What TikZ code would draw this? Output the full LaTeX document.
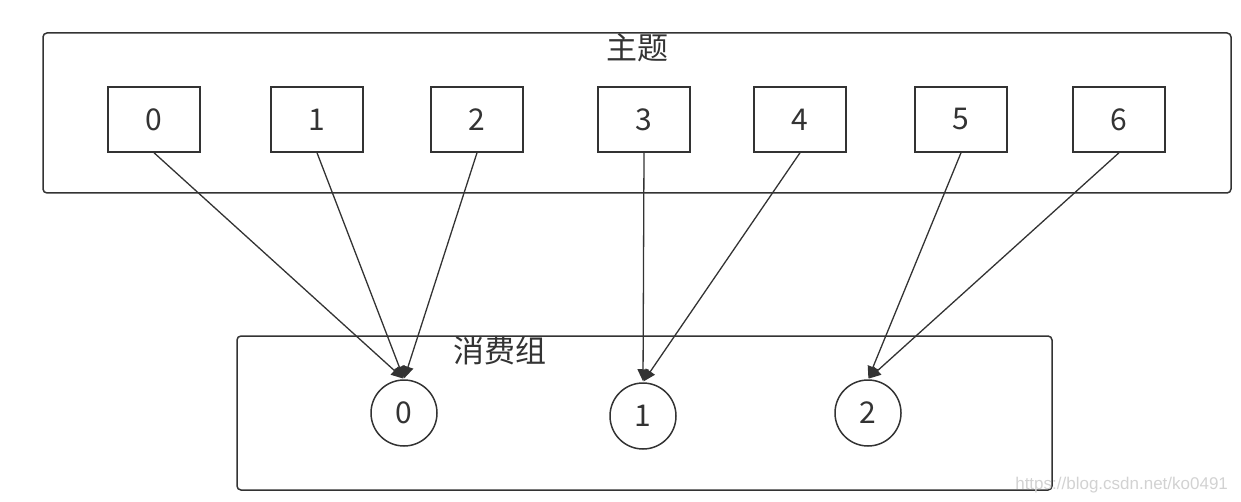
\documentclass[tikz,border=0pt]{standalone}
\usepackage{fontspec}
\setmainfont{Noto Sans CJK SC}
\newfontfamily\markfont{Liberation Sans}
\usetikzlibrary{arrows.meta}
\definecolor{linegray}{HTML}{333333}
\tikzset{
  part/.style={draw=linegray, line width=0.75pt, minimum width=46pt, minimum height=32.5pt, inner sep=0pt, font=\fontsize{15}{17}\selectfont, text=linegray},
  consumer/.style={draw=linegray, circle, line width=0.75pt, minimum size=33pt, inner sep=0pt, font=\fontsize{15}{17}\selectfont, text=linegray},
  group/.style={draw=linegray, line width=0.75pt, rounded corners=2pt},
  title/.style={font=\fontsize{15.5}{17}\selectfont, text=linegray, inner sep=0pt},
  feed/.style={draw=linegray, line width=0.65pt, -{Triangle[length=6pt,width=5.5pt]}, shorten >=0.5pt}
}
\begin{document}
\begin{tikzpicture}[x=0.5pt,y=-0.5pt]
  \useasboundingbox (0,0) rectangle (1241,502);
  % topic and its partitions
  \draw[group] (43,33) rectangle (1231,193);
  \node[title] (topic) at (637,48) {主题};
  \node[part] (p0) at (154,119.5) {0};
  \node[part] (p1) at (317,119.5) {1};
  \node[part] (p2) at (477,119.5) {2};
  \node[part] (p3) at (644,119.5) {3};
  \node[part] (p4) at (800,119.5) {4};
  \node[part] (p5) at (961,119.5) {5};
  \node[part] (p6) at (1119,119.5) {6};

  % consumer group
  \draw[group] (237,336) rectangle (1052,490);
  \node[title] (grp) at (500,351) {消费组};
  \node[consumer] (c0) at (404,413) {0};
  \node[consumer] (c1) at (643,416) {1};
  \node[consumer] (c2) at (868,413) {2};

  \draw[feed] (p0.south) -- (c0.north);
  \draw[feed] (p1.south) -- (c0.north);
  \draw[feed] (p2.south) -- (c0.north);
  \draw[feed] (p3.south) -- (c1.north);
  \draw[feed] (p4.south) -- (c1.north);
  \draw[feed] (p5.south) -- (c2.north);
  \draw[feed] (p6.south) -- (c2.north);

  \node[anchor=east, font=\markfont\fontsize{8.5}{9}\selectfont, text=gray!35] (mark) at (1235,485) {https://blog.csdn.net/ko0491};
\end{tikzpicture}
\end{document}
